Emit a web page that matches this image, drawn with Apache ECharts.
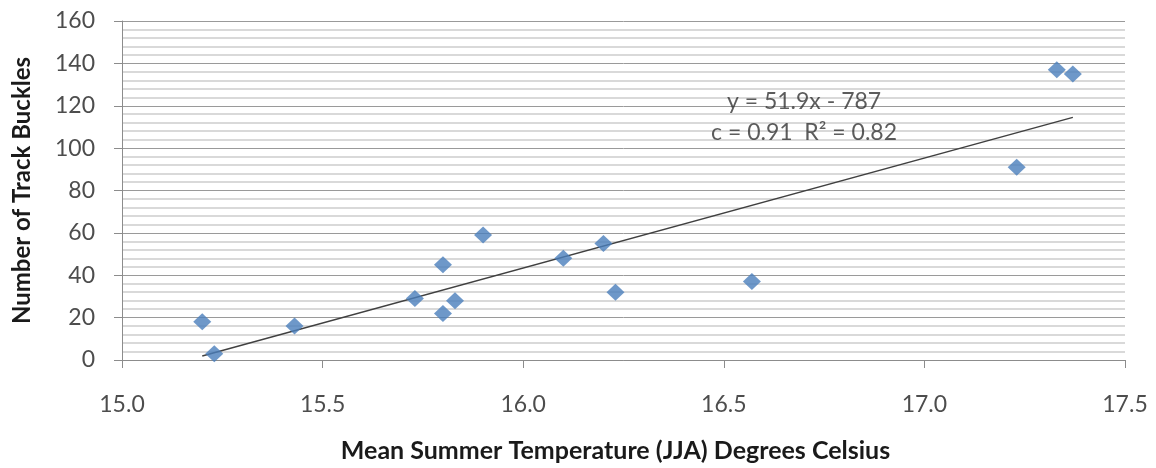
<!DOCTYPE html>
<html>
<head>
<meta charset="utf-8">
<script src="https://cdn.jsdelivr.net/npm/echarts@6/dist/echarts.min.js"></script>
<style>
  html, body { margin: 0; padding: 0; background: #ffffff; }
  #chart { width: 1156px; height: 468px; }
</style>
</head>
<body>
<div id="chart"></div>
<script>
// ---- data ----
const tempC   = [15.20, 15.23, 15.43, 15.73, 15.80, 15.80, 15.83, 15.90, 16.10, 16.20, 16.23, 16.57, 17.23, 17.33, 17.37];
const buckles = [18,    3,     16,    29,    45,    22,    28,    59,    48,    55,    32,    37,    91,    137,   135];
const trendSlope = 51.9;
const trendIntercept = -787;
const trendXRange = [15.2, 17.37];
const xTicks = [15.0, 15.5, 16.0, 16.5, 17.0, 17.5];
const yTicks = [0, 20, 40, 60, 80, 100, 120, 140, 160];
const equationLines = ['y = 51.9x - 787', 'c = 0.91  R\u00B2 = 0.82'];
const equationAnchor = [16.7, 114.5];
const xTitle = 'Mean Summer Temperature (JJA) Degrees Celsius';
const yTitle = 'Number of Track Buckles';

const points = tempC.map((t, i) => [t, buckles[i]]);
const trend = trendXRange.map(x => [x, trendSlope * x + trendIntercept]);

const FONT = 'Lato, "Open Sans", sans-serif';
const chart = echarts.init(document.getElementById('chart'), null, { renderer: 'canvas' });
chart.setOption({
  backgroundColor: '#ffffff',
  animation: false,
  grid: { left: 122, right: 31, top: 21, bottom: 107, containLabel: false },
  xAxis: {
    type: 'value',
    min: xTicks[0], max: xTicks[xTicks.length - 1], interval: 0.5,
    name: xTitle,
    nameLocation: 'middle',
    nameGap: 78,
    nameTextStyle: { fontFamily: FONT, fontWeight: 'bold', fontSize: 25, color: '#1a1a1a', padding: [0, 16, 0, 0] },
    axisLine: { show: true, lineStyle: { color: '#8c8c8c', width: 1 } },
    axisTick: { show: true, inside: false, length: 8, lineStyle: { color: '#8c8c8c' } },
    axisLabel: { margin: 33, fontFamily: FONT, fontSize: 23, color: '#4d4d4d', formatter: v => v.toFixed(1) },
    splitLine: { show: false }
  },
  yAxis: {
    type: 'value',
    min: yTicks[0], max: yTicks[yTicks.length - 1], interval: 20,
    name: yTitle,
    nameLocation: 'middle',
    nameGap: 88,
    nameRotate: 90,
    nameTextStyle: { fontFamily: FONT, fontWeight: 'bold', fontSize: 24, color: '#1a1a1a' },
    axisLine: { show: true, lineStyle: { color: '#8c8c8c', width: 1 } },
    axisTick: { show: true, inside: false, length: 8, lineStyle: { color: '#8c8c8c' } },
    axisLabel: { margin: 27, fontFamily: FONT, fontSize: 23, color: '#4d4d4d' },
    splitLine: { show: true, lineStyle: { color: '#9a9a9a', width: 1 } },
    minorTick: { show: false, splitNumber: 5 },
    minorSplitLine: { show: true, lineStyle: { color: '#cdcdcd', width: 1.5 } }
  },
  series: [
    {
      type: 'line',
      data: trend,
      symbol: 'none',
      lineStyle: { color: '#404040', width: 1.5 },
      z: 3,
      silent: true
    },
    {
      type: 'scatter',
      data: points,
      symbol: 'diamond',
      symbolSize: [18, 17],
      itemStyle: { color: '#4a7ebb' },
      z: 4
    },
    {
      type: 'scatter',
      data: [equationAnchor],
      symbolSize: 0,
      silent: true,
      z: 5,
      label: {
        show: true,
        position: 'inside',
        formatter: equationLines.join('\n'),
        fontFamily: FONT,
        fontSize: 23,
        lineHeight: 31,
        color: '#333333',
        align: 'center',
        verticalAlign: 'middle'
      }
    }
  ]
});
</script>
</body>
</html>
